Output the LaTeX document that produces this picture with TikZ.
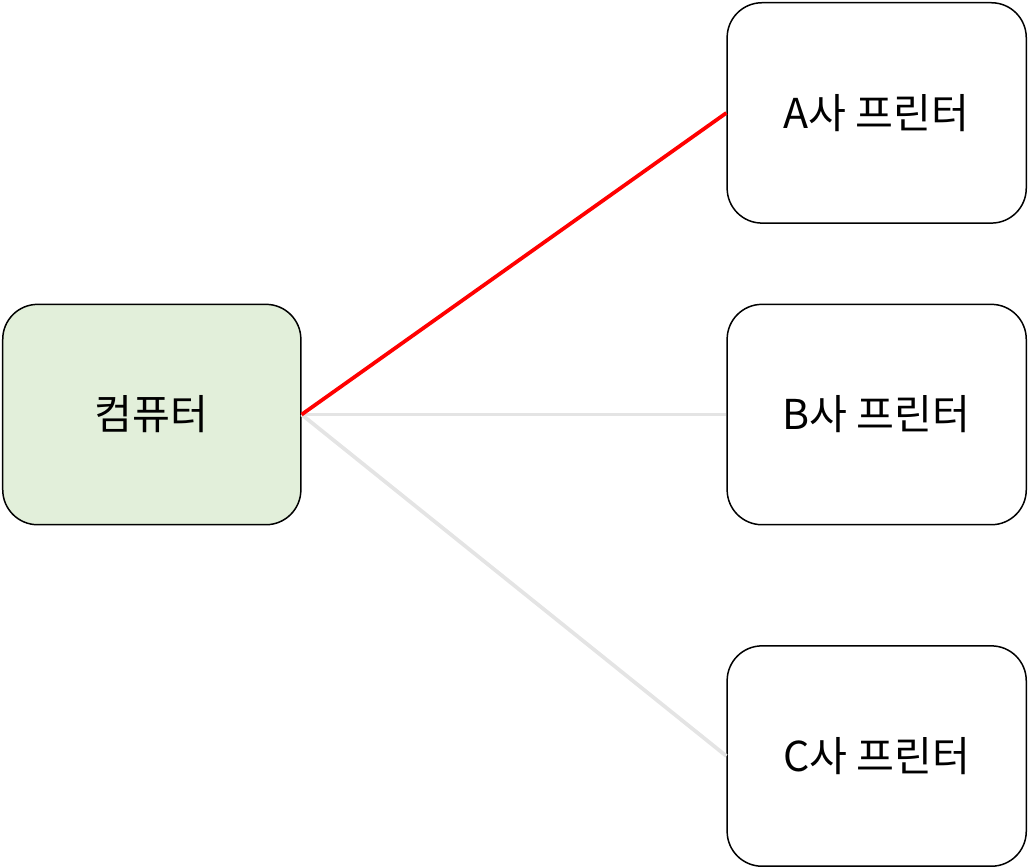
\documentclass[tikz,border=0pt]{standalone}
\usepackage{fontspec}
\setmainfont{Noto Sans CJK KR}
\usetikzlibrary{positioning,calc}
\definecolor{pcgreen}{HTML}{E2EFDA}
\definecolor{linegray}{HTML}{E4E4E4}

\begin{document}
\begin{tikzpicture}[node distance=16mm and 85.2mm,box/.style={draw,line width=0.3mm,rounded corners=7mm,align=center,minimum width=60mm,minimum height=44.2mm,font=\fontsize{23.5}{28}\selectfont},link/.style={line width=0.75mm}]
\node[box,fill=pcgreen,minimum width=59.8mm] (pc) {컴퓨터};
\node[box,right=of pc] (b) {B사 프린터};
\node[box,above=of b] (a) {A사 프린터};
\node[box,below=24mm of b] (c) {C사 프린터};
\draw[link,linegray] (pc.east)--(b.west); \draw[link,linegray] (pc.east)--(c.west);
\draw[link,red] (pc.east)--(a.west);
\useasboundingbox ($(pc.west|-a.north)+(-0.4mm,0.4mm)$) rectangle ($(c.south east)+(0.2mm,-0.2mm)$);
\end{tikzpicture}
\end{document}
